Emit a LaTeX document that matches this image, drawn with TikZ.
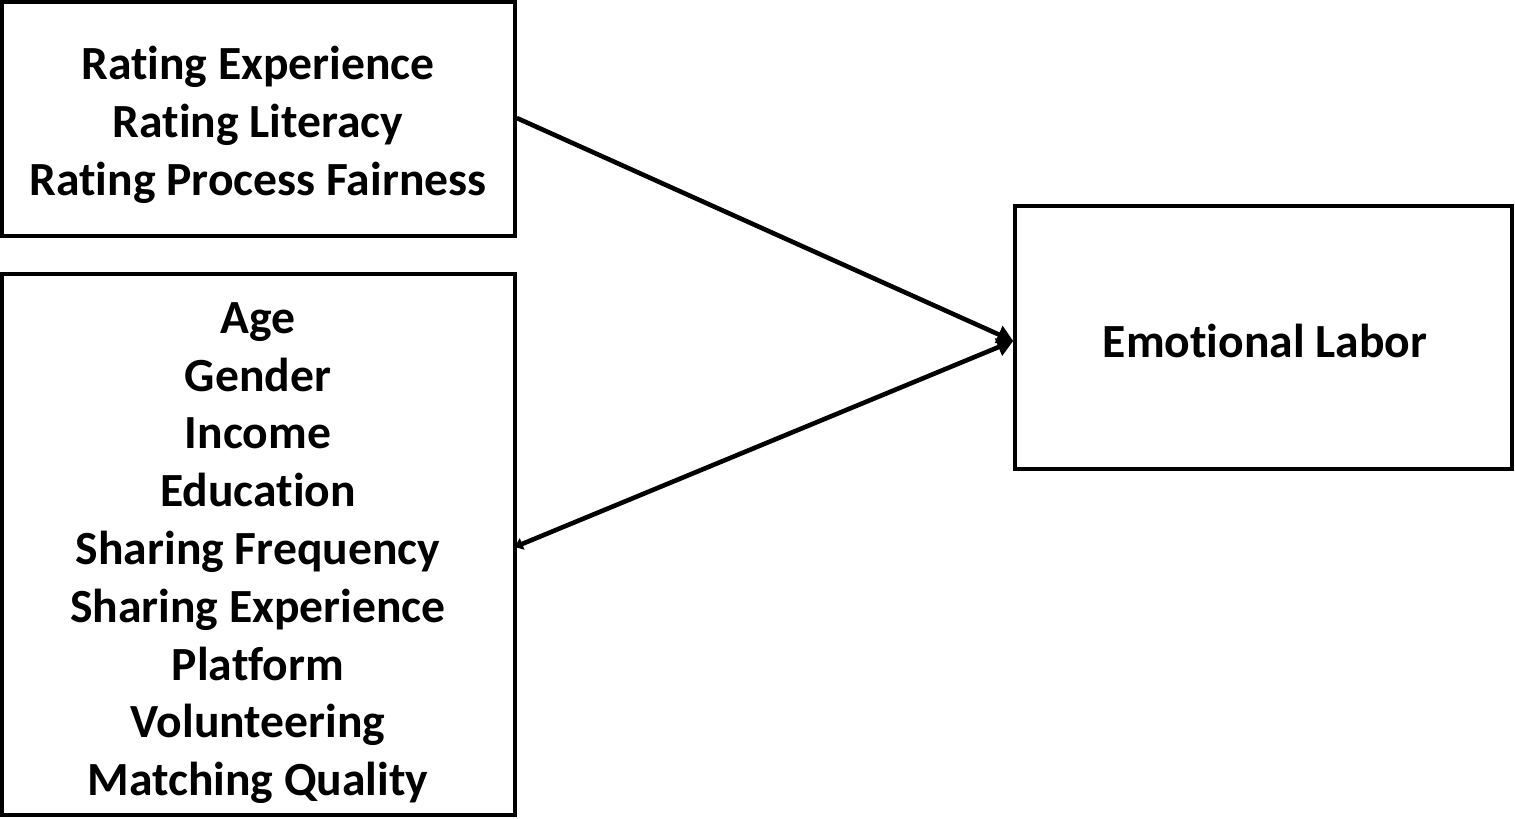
\documentclass[tikz,border=0pt]{standalone}
\usepackage{fontspec}
\setmainfont[Ligatures={NoCommon}]{Carlito}
\usetikzlibrary{arrows.meta}
\begin{document}
\begin{tikzpicture}[x=0.5pt,y=-0.5pt,
  box/.style={draw=black,line width=2pt,rectangle,inner sep=0pt},
  lbl/.style={font=\bfseries\fontsize{23.8}{28.9}\selectfont,align=center,inner sep=0pt},
  conn/.style={line width=2.3pt,-{Triangle[length=8pt,width=9pt]}}]
\useasboundingbox (0,0) rectangle (1515,819);
\node[box,minimum width=256.5pt,minimum height=117pt] (top) at (258.25,118.5) {};
\node[box,minimum width=256.5pt,minimum height=270.5pt] (bot) at (258.25,544.5) {};
\node[box,minimum width=248.5pt,minimum height=131.5pt] (out) at (1263.75,337.75) {};
\node[lbl] (ttext) at (258,125) {Rating Experience\\Rating Literacy\\Rating Process Fairness};
\node[lbl] (btext) at (258,553) {Age\\Gender\\Income\\Education\\Sharing Frequency\\Sharing Experience\\Platform\\Volunteering\\Matching Quality};
\node[lbl] (otext) at (1265,341) {Emotional Labor};
\coordinate (a1) at (top.east |- 0,118);
\coordinate (a2) at ([xshift=-1pt]bot.east |- 0,547);
\coordinate (e) at (out.west |- 0,341);
\draw[conn] (a1) -- (e);
\draw[conn,{Triangle[length=4pt,width=6pt]}-{Triangle[length=8pt,width=9pt]}] (a2) -- (e);
\end{tikzpicture}
\end{document}
